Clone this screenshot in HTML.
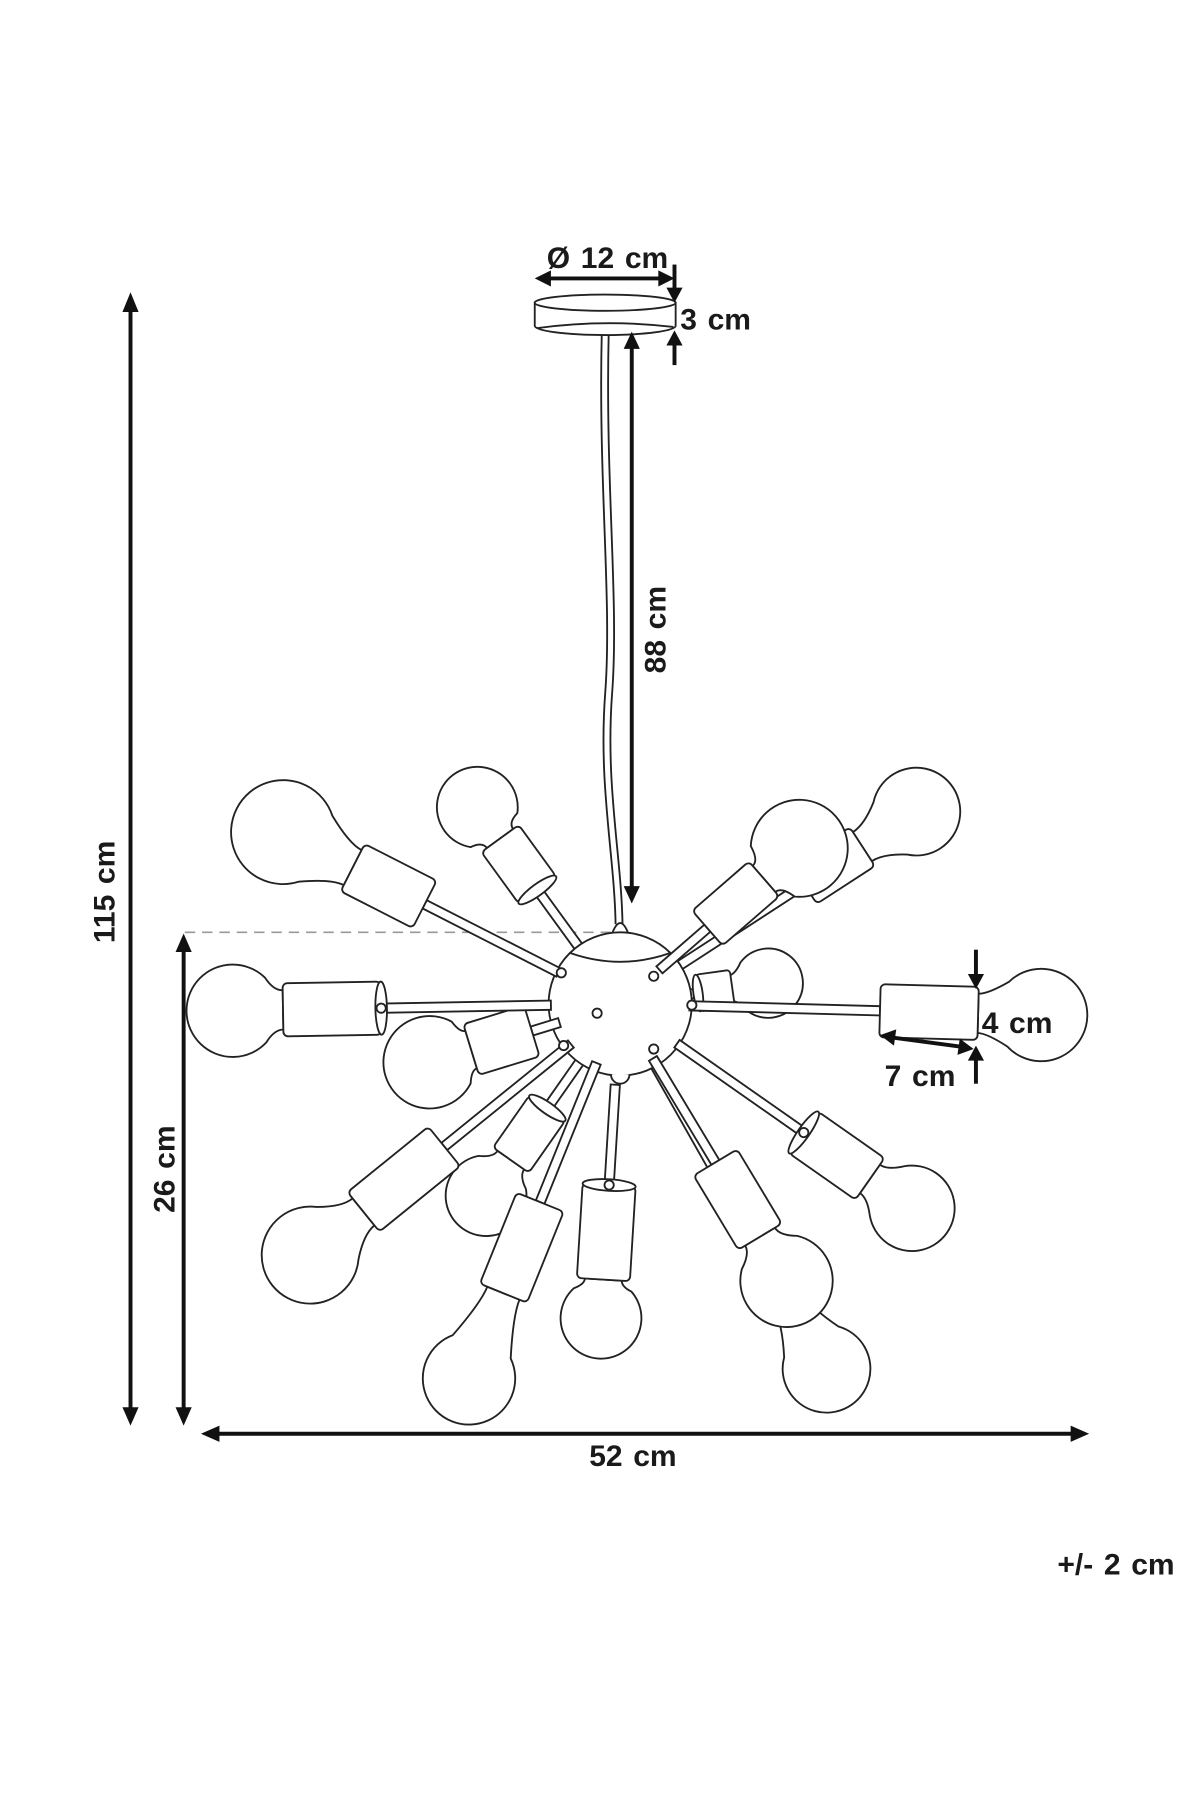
<!DOCTYPE html>
<html><head><meta charset="utf-8"><style>
html,body{margin:0;padding:0;background:#fff}
svg{display:block}
text{font-family:"Liberation Sans",sans-serif;font-weight:bold;fill:#1a1a1a;font-size:26px;letter-spacing:0px;word-spacing:2px}
.l{fill:#fff;stroke:#222;stroke-width:1.6}
.ln{fill:none;stroke:#222;stroke-width:1.6}
.d{stroke:#111;stroke-width:3.4;fill:none}
.ah{fill:#111}
</style></head><body>
<svg width="1200" height="1800" viewBox="0 0 1039 1558" preserveAspectRatio="none" xmlns="http://www.w3.org/2000/svg">

<!-- canopy -->
<path class="l" d="M463 262 L463 282 A61 8 0 0 0 585 282 L585 262 Z"/>
<ellipse class="l" cx="524" cy="262" rx="61" ry="7"/>
<path class="ln" d="M465 284 Q524 276 583 283" stroke-width="1"/>
<!-- cord -->
<path class="ln" d="M521 290 C518 420 530 520 524 600 C518 680 532 740 533 800" stroke-width="1.3"/>
<path class="ln" d="M527 290 C524 420 536 520 530 600 C524 680 538 740 539 800" stroke-width="1.3"/>

<!-- Ø 12 cm -->
<text x="526" y="232" text-anchor="middle">Ø 12 cm</text>
<line class="d" x1="475" y1="241" x2="572" y2="241"/>
<path class="ah" d="M463 241 L477 234 L477 248 Z"/>
<path class="ah" d="M584 241 L570 234 L570 248 Z"/>
<!-- 3 cm -->
<line class="d" x1="584" y1="229" x2="584" y2="252" stroke-width="2.8"/>
<path class="ah" d="M584 262 L577 249 L591 249 Z"/>
<line class="d" x1="584" y1="296" x2="584" y2="316" stroke-width="2.8"/>
<path class="ah" d="M584 286 L577 299 L591 299 Z"/>
<text x="589" y="285">3 cm</text>

<!-- 88 cm -->
<line class="d" x1="547" y1="300" x2="547" y2="770"/>
<path class="ah" d="M547 287 L540 302 L554 302 Z"/>
<path class="ah" d="M547 782 L540 767 L554 767 Z"/>
<text transform="translate(576 545) rotate(-90)" text-anchor="middle">88 cm</text>

<!-- 115 cm -->
<line class="d" x1="113" y1="268" x2="113" y2="1222"/>
<path class="ah" d="M113 253 L106 270 L120 270 Z"/>
<path class="ah" d="M113 1234 L106 1218 L120 1218 Z"/>
<text transform="translate(99 772) rotate(-90)" text-anchor="middle">115 cm</text>

<!-- 26 cm -->
<line x1="160" y1="807" x2="535" y2="807" stroke="#999" stroke-width="1.4" stroke-dasharray="9 6"/>
<line class="d" x1="159" y1="822" x2="159" y2="1222"/>
<path class="ah" d="M159 808 L152 824 L166 824 Z"/>
<path class="ah" d="M159 1234 L152 1218 L166 1218 Z"/>
<text transform="translate(151 1012) rotate(-90)" text-anchor="middle">26 cm</text>

<!-- 52 cm -->
<line class="d" x1="188" y1="1241" x2="930" y2="1241"/>
<path class="ah" d="M174 1241 L190 1234 L190 1248 Z"/>
<path class="ah" d="M943 1241 L927 1234 L927 1248 Z"/>
<text x="548" y="1269" text-anchor="middle">52 cm</text>

<text x="1017" y="1363" text-anchor="end">+/- 2 cm</text>

<!-- ARMS: behind -->
<g transform="translate(537 869) rotate(352)">
<rect class="l" x="55" y="-4" width="15" height="8"/>
<path class="l" d="M95 -11 Q102 -11 108 -21 A30 30 0 1 1 108 21 Q102 11 95 11 Z"/>
<rect class="l" x="68" y="-16" width="30" height="32" rx="3"/><ellipse class="l" cx="68" cy="0" rx="4" ry="16"/>
</g>
<g transform="translate(537 869) rotate(60.5)">
<rect class="l" x="55" y="-4" width="195" height="8"/>
<path class="l" d="M295 -14 Q310 -14 336 -27 A38 38 0 1 1 336 27 Q310 14 295 14 Z"/>
<rect class="l" x="250" y="-20" width="45" height="40" rx="4"/>
</g>
<g transform="translate(537 869) rotate(125)">
<rect class="l" x="55" y="-4" width="55" height="8"/>
<path class="l" d="M165 -14 Q172 -14 178 -25 A35 35 0 1 1 178 25 Q172 14 165 14 Z"/>
<rect class="l" x="110" y="-19" width="55" height="38" rx="4"/><ellipse class="l" cx="110" cy="0" rx="5" ry="19"/>
</g>
<g transform="translate(537 869) rotate(234)">
<rect class="l" x="55" y="-4" width="67" height="8"/>
<path class="l" d="M177 -14 Q184 -14 186 -25 A35 35 0 1 1 186 25 Q184 14 177 14 Z"/>
<rect class="l" x="122" y="-20" width="55" height="40" rx="4"/><ellipse class="l" cx="122" cy="0" rx="5" ry="20"/>
</g>
<g transform="translate(537 869) rotate(327)">
<rect class="l" x="55" y="-4" width="135" height="8"/>
<path class="l" d="M250 -15 Q262 -15 279 -27 A38 38 0 1 1 279 27 Q262 15 250 15 Z"/>
<rect class="l" x="190" y="-20" width="60" height="40" rx="4"/>
</g>

<!-- hub -->
<path class="l" d="M530 808 Q537 790 544 808 L546 822 L528 822 Z"/>
<circle class="l" cx="537" cy="869" r="62"/>
<path class="ln" d="M494 825 Q537 840 580 825"/>
<path class="l" d="M529 930 a8 8 0 0 0 16 0" />

<!-- front arms -->
<g transform="translate(537 869) rotate(319)">
<rect class="l" x="45" y="-4" width="55" height="8"/>
<path class="l" d="M165 -15 Q172 -15 175 -29 A42 42 0 1 1 175 29 Q172 15 165 15 Z"/>
<rect class="l" x="100" y="-20" width="65" height="40" rx="4"/>
</g>
<g transform="translate(537 869) rotate(35)">
<rect class="l" x="60" y="-4" width="134" height="8"/>
<path class="l" d="M264 -15 Q272 -15 282 -26 A37 37 0 1 1 282 26 Q272 15 264 15 Z"/>
<rect class="l" x="194" y="-22" width="70" height="44" rx="4"/><ellipse class="l" cx="194" cy="0" rx="5" ry="22"/><circle class="l" cx="194" cy="0" r="4"/>
</g>
<g transform="translate(537 869) rotate(59)">
<rect class="l" x="55" y="-4" width="105" height="8"/>
<path class="l" d="M235 -15 Q243 -15 251 -28 A40 40 0 1 1 251 28 Q243 15 235 15 Z"/>
<rect class="l" x="160" y="-22" width="75" height="44" rx="4"/>
</g>
<g transform="translate(537 869) rotate(93.5)">
<rect class="l" x="70" y="-4" width="90" height="8"/>
<path class="l" d="M239 -16 Q244 -16 248 -25 A35 35 0 1 1 248 25 Q244 16 239 16 Z"/>
<rect class="l" x="157" y="-23" width="82" height="46" rx="4"/><ellipse class="l" cx="157" cy="0" rx="5" ry="23"/><circle class="l" cx="157" cy="0" r="4"/>
</g>
<g transform="translate(537 869) rotate(112)">
<rect class="l" x="55" y="-4" width="130" height="8"/>
<path class="l" d="M270 -15 Q285 -15 320 -27 A40 40 0 1 1 320 27 Q285 15 270 15 Z"/>
<rect class="l" x="185" y="-22" width="85" height="44" rx="4"/>
</g>
<g transform="translate(537 869) rotate(141)">
<rect class="l" x="55" y="-4" width="141" height="8"/>
<path class="l" d="M286 -15 Q298 -15 315 -29 A42 42 0 1 1 315 29 Q298 15 286 15 Z"/>
<rect class="l" x="196" y="-22" width="90" height="44" rx="4"/>
</g>
<g transform="translate(537 869) rotate(163)">
<rect class="l" x="55" y="-4" width="25" height="8"/>
<path class="l" d="M135 -17 Q140 -17 144 -28 A40 40 0 1 1 144 28 Q140 17 135 17 Z"/>
<rect class="l" x="80" y="-23" width="55" height="46" rx="4"/>
</g>
<g transform="translate(537 869) rotate(179)">
<rect class="l" x="60" y="-4" width="147" height="8"/>
<path class="l" d="M292 -17 Q300 -17 307 -28 A40 40 0 1 1 307 28 Q300 17 292 17 Z"/>
<rect class="l" x="207" y="-23" width="85" height="46" rx="4"/><ellipse class="l" cx="207" cy="0" rx="5" ry="23"/><circle class="l" cx="207" cy="0" r="4"/>
</g>
<g transform="translate(537 869) rotate(207)">
<rect class="l" x="60" y="-4" width="130" height="8"/>
<path class="l" d="M260 -17 Q272 -17 296 -32 A45 45 0 1 1 296 32 Q272 17 260 17 Z"/>
<rect class="l" x="190" y="-23" width="70" height="46" rx="4"/>
</g>
<g transform="translate(537 869) rotate(1.5)">
<rect class="l" x="60" y="-4" width="165" height="8"/>
<path class="l" d="M310 -17 Q318 -17 336 -28 A40 40 0 1 1 336 28 Q318 17 310 17 Z"/>
<rect class="l" x="225" y="-23" width="85" height="46" rx="4"/>
</g>
<circle class="l" cx="486" cy="842" r="4"/><circle class="l" cx="566" cy="845" r="4"/>
<circle class="l" cx="517" cy="877" r="4"/><circle class="l" cx="566" cy="908" r="4"/>
<circle class="l" cx="599" cy="870" r="4"/><circle class="l" cx="488" cy="905" r="4"/>

<!-- 4 cm / 7 cm -->
<line class="d" x1="845" y1="822" x2="845" y2="845" stroke-width="2.8"/>
<path class="ah" d="M845 856 L838 843 L852 843 Z"/>
<line class="d" x1="845" y1="916" x2="845" y2="938" stroke-width="2.8"/>
<path class="ah" d="M845 905 L838 918 L852 918 Z"/>
<text x="850" y="894">4 cm</text>
<line class="d" x1="772" y1="898" x2="832" y2="906" stroke-width="3"/>
<path class="ah" d="M762 896 L776 891 L774 905 Z"/>
<path class="ah" d="M843 908 L829 913 L831 899 Z"/>
<text x="766" y="940">7 cm</text>
</svg>
</body></html>
